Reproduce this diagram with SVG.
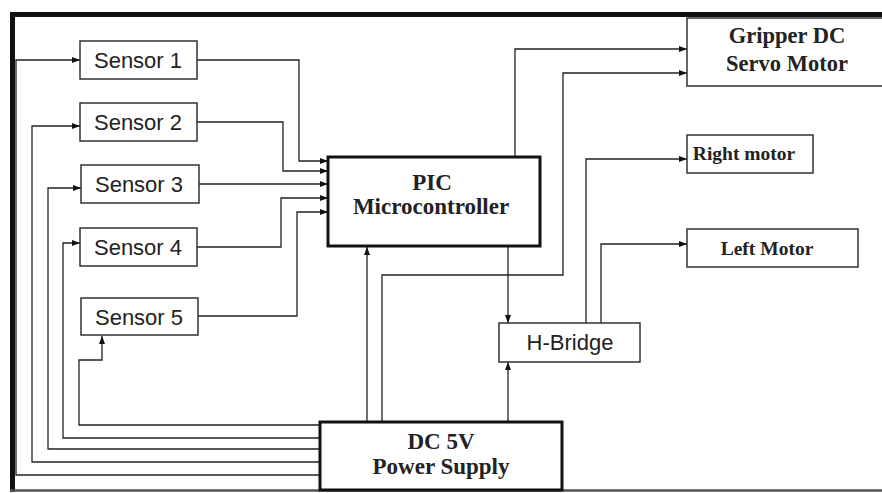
<svg xmlns="http://www.w3.org/2000/svg" width="882" height="493" viewBox="0 0 882 493">
<defs>
<marker id="ah" markerUnits="userSpaceOnUse" markerWidth="8" markerHeight="6" refX="8" refY="3" orient="auto">
<path d="M0,0 L8,3 L0,6 z" fill="#111"/>
</marker>
<style>
.box{fill:#fff;stroke:#333;stroke-width:1.5}
.thick{fill:#fff;stroke:#111;stroke-width:3}
.sans{font-family:"Liberation Sans",Arial,sans-serif;font-size:22px;fill:#222;text-anchor:middle}
.serif{font-family:"Liberation Serif","Times New Roman",serif;font-weight:bold;fill:#222;text-anchor:middle}
.conn path{fill:none;stroke:#222;stroke-width:1.3;marker-end:url(#ah)}
</style>
</defs>
<rect width="882" height="493" fill="#fff"/>
<g id="frame" stroke="#111" fill="none">
<line x1="10" y1="14.5" x2="882" y2="14.5" stroke-width="5"/>
<line x1="12.5" y1="12" x2="12.5" y2="492" stroke-width="5"/>
<line x1="10" y1="490.5" x2="882" y2="490.5" stroke-width="2.5" stroke="#555"/>
</g>
<g id="connectors" class="conn">
<path d="M320,475 H16 V60 H80"/>
<path d="M320,462 H32 V126 H80"/>
<path d="M320,449 H48 V188 H81"/>
<path d="M320,438 H63 V243 H80"/>
<path d="M320,425 H79 V360 H102 V336"/>
<path d="M197,60 H299 V161 H328"/>
<path d="M197,122 H283 V171 H328"/>
<path d="M199,184 H328"/>
<path d="M197,247 H281 V198 H328"/>
<path d="M198,316 H297 V212 H328"/>
<path d="M367,422 V247"/>
<path d="M382,422 V275 H563 V73 H687"/>
<path d="M515,157 V49 H687"/>
<path d="M508,246 V323"/>
<path d="M508,422 V362"/>
<path d="M586,323 V159 H687"/>
<path d="M601,323 V244 H687"/>
</g>
<g id="sensor1"><rect class="box" x="80" y="41" width="117" height="38"/><text class="sans" x="138" y="68">Sensor 1</text></g>
<g id="sensor2"><rect class="box" x="80" y="103" width="117" height="38"/><text class="sans" x="138" y="130">Sensor 2</text></g>
<g id="sensor3"><rect class="box" x="81" y="165" width="118" height="38"/><text class="sans" x="139" y="192">Sensor 3</text></g>
<g id="sensor4"><rect class="box" x="80" y="228" width="117" height="38"/><text class="sans" x="138" y="255">Sensor 4</text></g>
<g id="sensor5"><rect class="box" x="81" y="298" width="117" height="37"/><text class="sans" x="139" y="325">Sensor 5</text></g>
<g id="pic"><rect class="thick" x="328" y="157" width="212" height="89"/>
<text class="serif" x="432" y="190" font-size="23">PIC</text>
<text class="serif" x="431" y="214" font-size="23">Microcontroller</text></g>
<g id="power"><rect class="thick" x="320" y="422" width="242" height="68"/>
<text class="serif" x="441" y="449" font-size="23">DC 5V</text>
<text class="serif" x="441" y="474" font-size="23">Power Supply</text></g>
<g id="hbridge"><rect class="box" x="499" y="323" width="141" height="39"/><text class="sans" x="570" y="350" font-size="23">H-Bridge</text></g>
<g id="gripper"><rect class="box" x="687" y="18" width="200" height="68"/>
<text class="serif" x="787" y="43" font-size="22.5">Gripper DC</text>
<text class="serif" x="787" y="71" font-size="22.5">Servo Motor</text></g>
<g id="right"><rect class="box" x="687" y="135" width="126" height="38"/><text class="serif" x="744" y="160" font-size="19.5">Right motor</text></g>
<g id="left"><rect class="box" x="687" y="229" width="171" height="38"/><text class="serif" x="767" y="255" font-size="19.5">Left Motor</text></g>
</svg>
